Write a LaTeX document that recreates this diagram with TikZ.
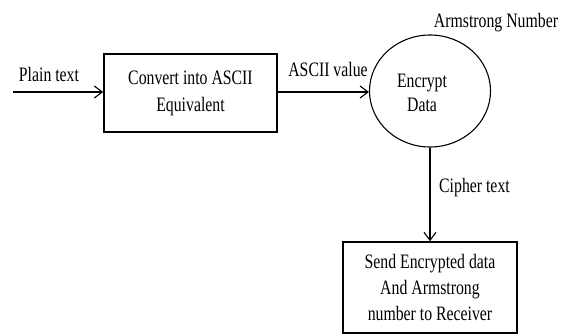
\documentclass[tikz,border=0pt]{standalone}
\usepackage{fontspec}
\setmainfont{Liberation Serif}[FakeStretch=0.77]
\usetikzlibrary{shapes.geometric,arrows.meta}
\begin{document}
\begin{tikzpicture}[x=1pt,y=-1pt,
  every node/.style={font=\fontsize{20.5}{27}\selectfont, inner sep=0pt},
  procbox/.style={draw, line width=1.6pt, rectangle, align=center},
  flow/.style={draw, line width=1.1pt, -{Straight Barb[length=8pt,width=12pt,line width=1.1pt]}},
  lbl/.style={anchor=base}]
\useasboundingbox (0,0) rectangle (562,334);
\node[procbox, minimum width=173pt, minimum height=78pt] (conv) at (190.5,93) {Convert into ASCII\\Equivalent};
\node[draw, ellipse, line width=1.1pt, minimum width=121pt, minimum height=112pt] (enc) at (430,91) {};
\node[align=center, font=\fontsize{20.5}{23.5}\selectfont] (enctext) at (422,93) {Encrypt\\Data};
\node[procbox, minimum width=174pt, minimum height=91pt, font=\fontsize{20.5}{26}\selectfont] (send) at (430,287.5) {Send Encrypted data\\And Armstrong\\number to Receiver};
\coordinate (start) at (13,92);
\draw[flow] (start) -- (conv.west |- start);
\draw[flow] (conv.east |- start) -- (enc.west |- start);
\draw[flow] (enc.south) -- (send.north);
\node[lbl] (plain) at (49,81.5) {Plain text};
\node[lbl] (asciival) at (328,77) {ASCII value};
\node[lbl] (arm) at (496,28) {Armstrong Number};
\node[lbl, anchor=base west] (cipher) at (439,192) {Cipher text};
\end{tikzpicture}
\end{document}
